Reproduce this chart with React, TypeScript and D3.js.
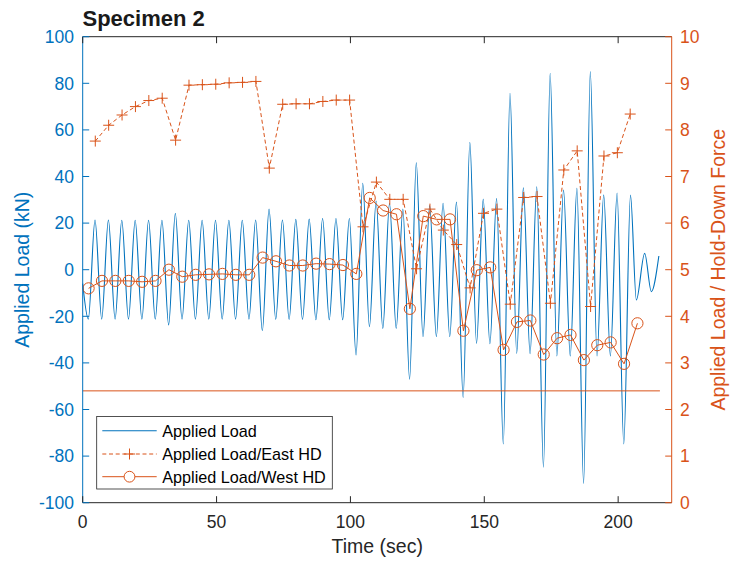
import React from "react";
import * as d3 from "d3";

// ---- Data ----
const loadTimes = [
  0, 2.1, 4.6, 7.1, 9.6, 12.1, 14.6, 17.1, 19.6, 22.1, 24.6, 27.1, 29.6, 32.1, 34.6, 37.1, 39.6,
  42.1, 44.6, 47.1, 49.6, 52.1, 54.6, 57.1, 59.6, 62.1, 64.6, 67.1, 69.6, 72.1, 74.6, 77.1, 79.6,
  82.1, 84.6, 87.1, 89.6, 92.1, 94.6, 97.1, 99.6, 102.1, 104.6, 107.1, 109.6, 112.1, 114.6, 117.1,
  119.6, 122.1, 124.6, 127.1, 129.6, 132.1, 134.6, 137.1, 139.6, 142.1, 144.6, 147.1, 149.6, 152.1,
  154.6, 157.1, 159.6, 162.1, 164.6, 167.1, 169.6, 172.1, 174.6, 177.1, 179.6, 182.1, 184.6, 187.1,
  189.6, 192.1, 194.6, 197.1, 199.6, 202.1, 204.6, 206.8, 209.9, 212.4, 215.2,
];
const loadValues = [
  -6, -21.2, 21.3, -21.2, 21.3, -21.2, 21.2, -21.2, 21.2, -21.2, 21.2, -21.2, 21.2, -23.7, 24.2, -21.2, 21.2,
  -21.2, 21.2, -21.2, 21.2, -21.2, 21.2, -21.2, 21.2, -21.2, 21.3, -26.2, 26.0, -21.3, 21.3, -21.4, 21.6,
  -21.4, 21.7, -21.5, 22.0, -21.5, 22.0, -21.5, 22.0, -36.6, 37.1, -24.5, 29.5, -25.2, 28.5, -25.2,
  26.0, -47.0, 45.9, -28.7, 27.5, -28.7, 28.5, -28.7, 29.0, -54.8, 54.7, -31.6, 30.3, -31.8,
  30.6, -74.8, 75.7, -35.9, 35.2, -36.0, 35.6, -84.8, 84.3, -37.0, 34.2, -37.0, 34.9, -91.7,
  85.0, -37.0, 32.1, -37.0, 32.9, -74.8, 32.0, -13.0, 7.0, -9.4, 5.9,
];

const eastTimes = [
  4.7, 9.7, 14.7, 19.7, 24.7, 29.7, 34.7, 39.7, 44.7, 49.7, 54.7, 59.7, 64.7, 69.7, 74.7, 79.7,
  84.7, 89.7, 94.7, 99.7, 104.7, 109.7, 114.7, 119.7, 124.7, 129.7, 134.7, 139.7, 144.7, 149.7,
  154.7, 159.7, 164.7, 169.7, 174.7, 179.7, 184.7, 189.7, 194.7, 199.7, 204.5,
];
const eastValues = [
  7.76, 8.10, 8.32, 8.50, 8.63, 8.68, 7.78, 8.96, 8.97, 8.98, 9.01, 9.02, 9.04, 7.18, 8.55, 8.56,
  8.56, 8.61, 8.64, 8.64, 5.92, 6.88, 6.51, 6.51, 5.02, 6.30, 5.85, 5.54, 4.61, 6.21,
  6.30, 4.26, 6.55, 6.57, 4.28, 7.14, 7.55, 4.21, 7.44, 7.51, 8.34,
];

const westTimes = [
  2.2, 7.2, 12.2, 17.2, 22.2, 27.2, 32.2, 37.2, 42.2, 47.2, 52.2, 57.2, 62.2, 67.2, 72.2, 77.2,
  82.2, 87.2, 92.2, 97.2, 102.2, 107.2, 112.2, 117.2, 122.2, 127.2, 132.2, 137.2, 142.2, 147.2,
  152.2, 157.2, 162.2, 167.2, 172.2, 177.2, 182.2, 187.2, 192.2, 197.2, 202.2, 207.2,
];
const westValues = [
  4.60, 4.76, 4.76, 4.76, 4.74, 4.76, 5.00, 4.85, 4.89, 4.90, 4.91, 4.89, 4.89, 5.26, 5.18, 5.09,
  5.09, 5.13, 5.12, 5.10, 4.91, 6.54, 6.27, 6.19, 4.16, 6.15, 6.08, 6.08, 3.69, 4.99,
  5.05, 3.28, 3.88, 3.91, 3.18, 3.53, 3.60, 3.06, 3.38, 3.44, 2.98, 3.85,
];

const thresholdValue = 2.4;
const thresholdSpan = [0, 215.6];

const xTicks = [0, 50, 100, 150, 200];
const leftTicks = [-100, -80, -60, -40, -20, 0, 20, 40, 60, 80, 100];
const rightTicks = [0, 1, 2, 3, 4, 5, 6, 7, 8, 9, 10];

const legendLabels = ["Applied Load", "Applied Load/East HD", "Applied Load/West HD"];

// ---- Styles ----
const BLUE = "#0072BD";
const ORANGE = "#D95319";
const DARK = "#262626";
const FONT = "'Liberation Sans', Arial, Helvetica, sans-serif";

const PL = 82.7, PR = 671.7, PT = 36.7, PB = 502.7;

export default function App() {
  const x = d3.scaleLinear().domain([0, 220]).range([PL, PR]);
  const yL = d3.scaleLinear().domain([-100, 100]).range([PB, PT]);
  const yR = d3.scaleLinear().domain([0, 10]).range([PB, PT]);

  const loadPts = loadTimes.map((t, i) => [t, loadValues[i]] as [number, number]);
  const eastPts = eastTimes.map((t, i) => [t, eastValues[i]] as [number, number]);
  const westPts = westTimes.map((t, i) => [t, westValues[i]] as [number, number]);

  const loadLine = d3
    .line<[number, number]>()
    .x((d) => x(d[0]))
    .y((d) => yL(d[1]))
    .curve(d3.curveMonotoneX);
  const rLine = d3
    .line<[number, number]>()
    .x((d) => x(d[0]))
    .y((d) => yR(d[1]));

  const tickLen = 6.5;
  const plus = (cx: number, cy: number, s: number) =>
    `M${cx - s},${cy}H${cx + s}M${cx},${cy - s}V${cy + s}`;

  const legX0 = 96.7, legY0 = 416.5, legW = 235.6, legH = 72.5;
  const rows = [430.7, 454, 476.7];

  return (
    <svg
      width={730}
      height={562}
      style={{ position: "absolute", left: 0, top: 0, background: "#fff" }}
      fontFamily={FONT}
    >
      <rect x={0} y={0} width={730} height={562} fill="#fff" />

      {/* Blue applied load */}
      <path d={loadLine(loadPts) || ""} fill="none" stroke={BLUE} strokeWidth={1.1} />

      {/* East HD dashed with plus markers */}
      <path
        d={rLine(eastPts) || ""}
        fill="none"
        stroke={ORANGE}
        strokeWidth={1}
        strokeDasharray="4,2.7"
      />
      {eastPts.map((d, i) => (
        <path key={"e" + i} d={plus(x(d[0]), yR(d[1]), 5.5)} stroke={ORANGE} strokeWidth={1} fill="none" />
      ))}

      {/* West HD solid with circles */}
      <path d={rLine(westPts) || ""} fill="none" stroke={ORANGE} strokeWidth={1} />
      {westPts.map((d, i) => (
        <circle key={"w" + i} cx={x(d[0])} cy={yR(d[1])} r={5.6} fill="none" stroke={ORANGE} strokeWidth={1} />
      ))}

      {/* Horizontal threshold line */}
      <line
        x1={x(thresholdSpan[0])}
        x2={x(thresholdSpan[1])}
        y1={yR(thresholdValue)}
        y2={yR(thresholdValue)}
        stroke={ORANGE}
        strokeWidth={1}
      />

      {/* Axes box */}
      <line x1={PL} x2={PR} y1={PT} y2={PT} stroke={DARK} strokeWidth={1} />
      <line x1={PL} x2={PR} y1={PB} y2={PB} stroke={DARK} strokeWidth={1} />
      <line x1={PL} x2={PL} y1={PT} y2={PB} stroke={BLUE} strokeWidth={1} />
      <line x1={PR} x2={PR} y1={PT} y2={PB} stroke={ORANGE} strokeWidth={1} />

      {/* X ticks */}
      {xTicks.map((t) => (
        <g key={"xt" + t}>
          <line x1={x(t)} x2={x(t)} y1={PB} y2={PB - tickLen} stroke={DARK} strokeWidth={1} />
          <line x1={x(t)} x2={x(t)} y1={PT} y2={PT + tickLen} stroke={DARK} strokeWidth={1} />
          <text x={x(t)} y={528} textAnchor="middle" fontSize={17.5} fill={DARK}>
            {t}
          </text>
        </g>
      ))}

      {/* Left ticks */}
      {leftTicks.map((t) => (
        <g key={"lt" + t}>
          <line x1={PL} x2={PL + tickLen} y1={yL(t)} y2={yL(t)} stroke={BLUE} strokeWidth={1} />
          <text x={74} y={yL(t) + 6.2} textAnchor="end" fontSize={17.5} fill={BLUE}>
            {t}
          </text>
        </g>
      ))}

      {/* Right ticks */}
      {rightTicks.map((t) => (
        <g key={"rt" + t}>
          <line x1={PR} x2={PR - tickLen} y1={yR(t)} y2={yR(t)} stroke={ORANGE} strokeWidth={1} />
          <text x={680} y={yR(t) + 6.2} textAnchor="start" fontSize={17.5} fill={ORANGE}>
            {t}
          </text>
        </g>
      ))}

      {/* Title */}
      <text x={82.5} y={26} fontSize={22} fontWeight="bold" fill="#1a1a1a">
        Specimen 2
      </text>

      {/* Axis labels */}
      <text x={(PL + PR) / 2} y={553} textAnchor="middle" fontSize={19.5} fill={DARK}>
        Time (sec)
      </text>
      <text
        transform={`translate(29,${(PT + PB) / 2}) rotate(-90)`}
        textAnchor="middle"
        fontSize={19.5}
        fill={BLUE}
      >
        Applied Load (kN)
      </text>
      <text
        transform={`translate(725,${(PT + PB) / 2}) rotate(-90)`}
        textAnchor="middle"
        fontSize={19.5}
        fill={ORANGE}
      >
        Applied Load / Hold-Down Force
      </text>

      {/* Legend */}
      <rect x={legX0} y={legY0} width={legW} height={legH} fill="#fff" stroke={DARK} strokeWidth={0.8} />
      <line x1={102.3} x2={156.7} y1={rows[0]} y2={rows[0]} stroke={BLUE} strokeWidth={1.1} />
      <line x1={102.3} x2={156.7} y1={rows[1]} y2={rows[1]} stroke={ORANGE} strokeWidth={1} strokeDasharray="4,2.7" />
      <path d={plus(129.5, rows[1], 5.5)} stroke={ORANGE} strokeWidth={1} />
      <line x1={102.3} x2={156.7} y1={rows[2]} y2={rows[2]} stroke={ORANGE} strokeWidth={1} />
      <circle cx={129.5} cy={rows[2]} r={5.4} fill="#fff" stroke={ORANGE} strokeWidth={1} />
      {legendLabels.map((l, i) => (
        <text key={l} x={162.3} y={rows[i] + 5.8} fontSize={16.2} fill="#000">
          {l}
        </text>
      ))}
    </svg>
  );
}
